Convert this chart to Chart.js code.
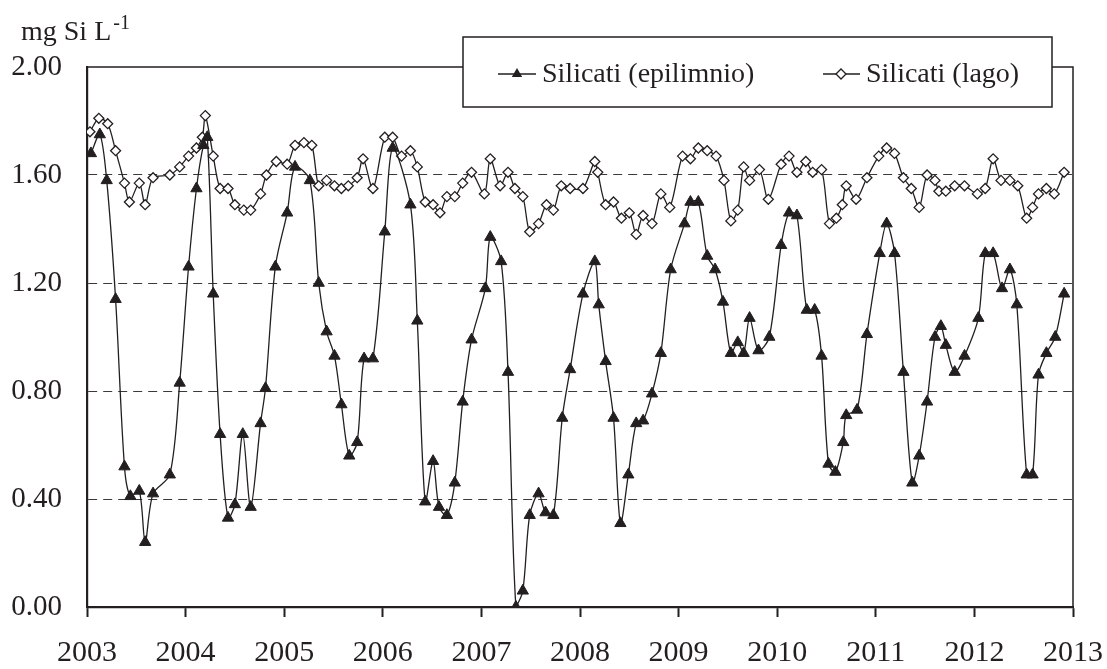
<!DOCTYPE html>
<html>
<head>
<meta charset="utf-8">
<title>Silicati</title>
<style>
  body { margin: 0; background: #ffffff; }
  #chart-box { width: 1107px; height: 669px; }
</style>
</head>
<body>
<div id="chart-box"><canvas id="silicati-chart" width="1107" height="669"></canvas></div>

<script src="https://cdn.jsdelivr.net/npm/chart.js"></script>
<script>
// sampling dates as decimal years
const epiYears = [
  2003.04, 2003.13, 2003.20, 2003.29, 2003.38, 2003.44, 2003.53, 2003.59, 2003.67, 2003.84, 2003.94,
  2004.03, 2004.11, 2004.18, 2004.22, 2004.28, 2004.35, 2004.43, 2004.50, 2004.58, 2004.66, 2004.76, 2004.81, 2004.91,
  2005.03, 2005.11, 2005.26, 2005.35, 2005.43, 2005.51, 2005.58, 2005.66, 2005.74, 2005.81, 2005.90,
  2006.02, 2006.10, 2006.28, 2006.35, 2006.43, 2006.51, 2006.57, 2006.65, 2006.73, 2006.81, 2006.90,
  2007.04, 2007.09, 2007.20, 2007.27, 2007.35, 2007.42, 2007.49, 2007.58, 2007.65, 2007.73, 2007.82, 2007.90,
  2008.03, 2008.15, 2008.19, 2008.26, 2008.34, 2008.41, 2008.49, 2008.57, 2008.64, 2008.73, 2008.82, 2008.92,
  2009.06, 2009.12, 2009.20, 2009.29, 2009.37, 2009.45, 2009.53, 2009.60, 2009.66, 2009.72, 2009.81, 2009.92,
  2010.04, 2010.12, 2010.20, 2010.30, 2010.38, 2010.45, 2010.52, 2010.59, 2010.67, 2010.70, 2010.81, 2010.91,
  2011.04, 2011.11, 2011.19, 2011.28, 2011.37, 2011.44, 2011.52, 2011.60, 2011.66, 2011.71, 2011.80, 2011.90,
  2012.04, 2012.11, 2012.19, 2012.28, 2012.36, 2012.43, 2012.53, 2012.59, 2012.65, 2012.73, 2012.82, 2012.91
];
const epiValues = [
  1.68, 1.75, 1.58, 1.14, 0.52, 0.41, 0.43, 0.24, 0.42, 0.49, 0.83,
  1.26, 1.55, 1.71, 1.74, 1.16, 0.64, 0.33, 0.38, 0.64, 0.37, 0.68, 0.81, 1.26,
  1.46, 1.63, 1.58, 1.20, 1.02, 0.93, 0.75, 0.56, 0.61, 0.92, 0.92,
  1.39, 1.70, 1.49, 1.06, 0.39, 0.54, 0.37, 0.34, 0.46, 0.76, 0.99,
  1.18, 1.37, 1.28, 0.87, 0.00, 0.06, 0.34, 0.42, 0.35, 0.34, 0.70, 0.88,
  1.16, 1.28, 1.12, 0.91, 0.70, 0.31, 0.49, 0.68, 0.69, 0.79, 0.94, 1.25,
  1.42, 1.50, 1.50, 1.30, 1.25, 1.13, 0.94, 0.98, 0.94, 1.07, 0.95, 1.00,
  1.34, 1.46, 1.45, 1.10, 1.10, 0.93, 0.53, 0.50, 0.61, 0.71, 0.73, 1.01,
  1.31, 1.42, 1.31, 0.87, 0.46, 0.56, 0.76, 1.00, 1.04, 0.97, 0.87, 0.93,
  1.07, 1.31, 1.31, 1.18, 1.25, 1.12, 0.49, 0.49, 0.86, 0.94, 1.00, 1.16
];

const lagoYears = [
  2003.03, 2003.12, 2003.21, 2003.29, 2003.38, 2003.43, 2003.53, 2003.59, 2003.67, 2003.84, 2003.94,
  2004.03, 2004.11, 2004.17, 2004.20, 2004.28, 2004.35, 2004.43, 2004.50, 2004.59, 2004.66, 2004.76, 2004.82, 2004.92,
  2005.03, 2005.11, 2005.20, 2005.28, 2005.35, 2005.43, 2005.51, 2005.58, 2005.65, 2005.74, 2005.80, 2005.90,
  2006.02, 2006.10, 2006.19, 2006.28, 2006.35, 2006.43, 2006.51, 2006.58, 2006.65, 2006.73, 2006.81, 2006.90,
  2007.03, 2007.09, 2007.19, 2007.27, 2007.34, 2007.42, 2007.49, 2007.58, 2007.66, 2007.73, 2007.81, 2007.90,
  2008.03, 2008.15, 2008.18, 2008.26, 2008.34, 2008.42, 2008.50, 2008.57, 2008.64, 2008.73, 2008.82, 2008.91,
  2009.04, 2009.12, 2009.20, 2009.29, 2009.38, 2009.46, 2009.53, 2009.60, 2009.66, 2009.72, 2009.82, 2009.91,
  2010.04, 2010.12, 2010.20, 2010.29, 2010.36, 2010.45, 2010.53, 2010.60, 2010.66, 2010.70, 2010.80, 2010.91,
  2011.03, 2011.11, 2011.19, 2011.28, 2011.36, 2011.44, 2011.52, 2011.60, 2011.64, 2011.71, 2011.80, 2011.90,
  2012.03, 2012.11, 2012.19, 2012.27, 2012.36, 2012.44, 2012.53, 2012.59, 2012.65, 2012.73, 2012.81, 2012.91
];
const lagoValues = [
  1.76, 1.81, 1.79, 1.69, 1.57, 1.50, 1.57, 1.49, 1.59, 1.60, 1.63,
  1.67, 1.70, 1.74, 1.82, 1.67, 1.55, 1.55, 1.49, 1.47, 1.47, 1.53, 1.60, 1.65,
  1.64, 1.71, 1.72, 1.71, 1.56, 1.58, 1.56, 1.55, 1.56, 1.59, 1.66, 1.55,
  1.74, 1.74, 1.67, 1.69, 1.63, 1.50, 1.49, 1.46, 1.52, 1.52, 1.57, 1.61,
  1.53, 1.66, 1.56, 1.61, 1.55, 1.52, 1.39, 1.42, 1.49, 1.47, 1.56, 1.55,
  1.55, 1.65, 1.61, 1.49, 1.50, 1.44, 1.46, 1.38, 1.45, 1.42, 1.53, 1.48,
  1.67, 1.66, 1.70, 1.69, 1.67, 1.58, 1.43, 1.47, 1.63, 1.58, 1.62, 1.51,
  1.64, 1.67, 1.61, 1.65, 1.61, 1.62, 1.42, 1.44, 1.49, 1.56, 1.51, 1.59,
  1.67, 1.70, 1.68, 1.59, 1.55, 1.48, 1.60, 1.58, 1.54, 1.54, 1.56, 1.56,
  1.53, 1.55, 1.66, 1.58, 1.58, 1.56, 1.44, 1.48, 1.53, 1.55, 1.53, 1.61
];

const seriesNames = ['Silicati (epilimnio)', 'Silicati (lago)'];
const yTitle = 'mg Si L';
const yTitleSup = '-1';

const ink = '#231f20';
const serif = "'Liberation Serif', 'Times New Roman', serif";

function toPoints(xs, ys) {
  return xs.map((x, i) => ({ x: x, y: ys[i] }));
}

// small marker helpers for the hand drawn legend
function drawTriangle(ctx, x, y, r) {
  ctx.beginPath();
  ctx.moveTo(x, y - r);
  ctx.lineTo(x + r * Math.sin(2 * Math.PI / 3), y + r / 2);
  ctx.lineTo(x - r * Math.sin(2 * Math.PI / 3), y + r / 2);
  ctx.closePath();
  ctx.fillStyle = ink;
  ctx.fill();
}
function drawDiamond(ctx, x, y, r) {
  ctx.beginPath();
  ctx.moveTo(x - r, y);
  ctx.lineTo(x, y - r);
  ctx.lineTo(x + r, y);
  ctx.lineTo(x, y + r);
  ctx.closePath();
  ctx.fillStyle = '#ffffff';
  ctx.fill();
  ctx.lineWidth = 1.3;
  ctx.strokeStyle = ink;
  ctx.stroke();
}

// frame, legend box and unit label
const decorations = {
  id: 'decorations',
  afterDraw(chart) {
    const ctx = chart.ctx;
    const area = chart.chartArea;
    ctx.save();

    // top and right sides of the plot frame
    ctx.strokeStyle = ink;
    ctx.lineWidth = 1.5;
    ctx.beginPath();
    ctx.moveTo(area.left, area.top);
    ctx.lineTo(area.right, area.top);
    ctx.lineTo(area.right, area.bottom);
    ctx.stroke();

    // legend box
    ctx.fillStyle = '#ffffff';
    ctx.fillRect(463, 37, 589, 70);
    ctx.lineWidth = 1.5;
    ctx.strokeRect(463, 37, 589, 70);

    const ly = 74;
    ctx.lineWidth = 1.3;
    ctx.beginPath();
    ctx.moveTo(498, ly); ctx.lineTo(536, ly);
    ctx.moveTo(823, ly); ctx.lineTo(860, ly);
    ctx.stroke();
    drawTriangle(ctx, 517, ly, 6);
    drawDiamond(ctx, 841, ly, 5);

    ctx.fillStyle = ink;
    ctx.font = '28px ' + serif;
    ctx.textBaseline = 'middle';
    ctx.textAlign = 'left';
    ctx.fillText(seriesNames[0], 542, ly + 1);
    ctx.fillText(seriesNames[1], 866, ly + 1);

    // unit label with superscript
    ctx.textBaseline = 'alphabetic';
    ctx.font = '28px ' + serif;
    ctx.fillText(yTitle, 21, 40);
    const w = ctx.measureText(yTitle).width;
    ctx.font = '20px ' + serif;
    ctx.fillText(yTitleSup, 21 + w + 2, 29);

    ctx.restore();
  }
};

const ctx = document.getElementById('silicati-chart').getContext('2d');
const silicatiChart = new Chart(ctx, {
  type: 'line',
  data: {
    datasets: [{
      label: seriesNames[0],
      data: toPoints(epiYears, epiValues),
      borderColor: ink,
      borderWidth: 1.3,
      backgroundColor: ink,
      pointStyle: 'triangle',
      pointRadius: 6.5,
      pointBorderWidth: 1,
      pointBorderColor: ink,
      pointBackgroundColor: ink,
      tension: 0.3
    }, {
      label: seriesNames[1],
      data: toPoints(lagoYears, lagoValues),
      borderColor: ink,
      borderWidth: 1.3,
      backgroundColor: '#ffffff',
      pointStyle: 'rectRot',
      pointRadius: 5,
      pointBorderWidth: 1.3,
      pointBorderColor: ink,
      pointBackgroundColor: '#ffffff',
      tension: 0.3
    }]
  },
  options: {
    responsive: false,
    animation: false,
    events: [],
    layout: { padding: { top: 67, right: 34, left: 0, bottom: 0 } },
    plugins: {
      legend: { display: false },
      tooltip: { enabled: false }
    },
    scales: {
      x: {
        type: 'linear',
        min: 2003,
        max: 2013,
        // fixed axis box so the plot area lands where the original has it
        afterFit: function (scale) {
          scale.height = 62;
          scale.paddingLeft = 0;
          scale.paddingRight = 0;
        },
        ticks: {
          stepSize: 1,
          autoSkip: false,
          maxRotation: 0,
          padding: 18,
          color: ink,
          font: { family: serif, size: 30 },
          callback: function (v) { return String(v); }
        },
        grid: {
          drawOnChartArea: false,
          drawTicks: true,
          tickLength: 10,
          tickWidth: 2,
          tickColor: ink
        },
        border: { display: true, color: ink, width: 2.2 }
      },
      y: {
        min: 0,
        max: 2,
        afterFit: function (scale) {
          scale.width = 87;
          scale.paddingTop = 0;
          scale.paddingBottom = 0;
        },
        ticks: {
          stepSize: 0.4,
          padding: 25,
          color: ink,
          font: { family: serif, size: 29 },
          callback: function (v) { return v.toFixed(2); }
        },
        grid: {
          drawTicks: false,
          lineWidth: 1,
          color: function (c) {
            const v = c.tick ? c.tick.value : 0;
            return (v < 0.01 || v > 1.99) ? 'rgba(0,0,0,0)' : '#3a3a3a';
          }
        },
        border: { display: true, color: ink, width: 2.2, dash: [9, 6] }
      }
    }
  },
  plugins: [decorations]
});
</script>
</body>
</html>
